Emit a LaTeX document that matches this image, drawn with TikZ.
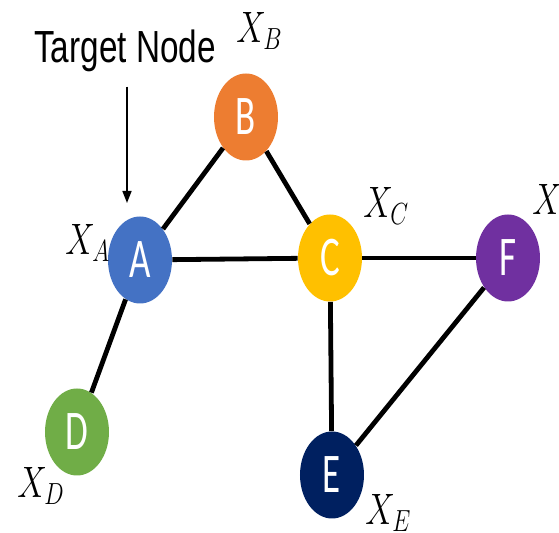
\documentclass[tikz,border=0pt]{standalone}
\usepackage{fontspec}
\newfontfamily\nodefont[FakeStretch=0.66]{Carlito}
\newfontfamily\notefont[FakeStretch=0.74]{Liberation Sans}
\usetikzlibrary{shapes.geometric,arrows.meta}

\definecolor{nodeA}{HTML}{4472C4}
\definecolor{nodeB}{HTML}{ED7D31}
\definecolor{nodeC}{HTML}{FFC000}
\definecolor{nodeD}{HTML}{70AD47}
\definecolor{nodeE}{HTML}{002060}
\definecolor{nodeF}{HTML}{7030A0}

\newcommand{\xlab}[1]{\scalebox{0.8}[1.06]{$X_{#1}$}}

\begin{document}
\begin{tikzpicture}[
  x=0.5pt, y=-0.5pt,
  vertex/.style={ellipse, minimum width=32pt, minimum height=43.5pt, inner sep=0,
                 text=white, font=\nodefont\fontsize{28}{28}\selectfont},
  edge/.style={line width=2.4pt, draw=black},
  xname/.style={anchor=base west, inner sep=0, font=\fontsize{20.74}{22}\selectfont},
  pointer/.style={-{Triangle[length=6pt,width=4.5pt]}, line width=0.75pt, shorten <=7pt},
]
\clip (0,0) rectangle (559,533);

\node[vertex, fill=nodeA] (a) at (140,260) {A};
\node[vertex, fill=nodeB] (b) at (246,117) {B};
\node[vertex, fill=nodeC] (c) at (330,258) {C};
\node[vertex, fill=nodeD] (d) at (77,432)  {D};
\node[vertex, fill=nodeE] (e) at (332,475) {E};
\node[vertex, fill=nodeF] (f) at (508,258) {F};

\draw[edge] (a) -- (b);
\draw[edge] (b) -- (c);
\draw[edge] (a) -- (c);
\draw[edge] (c) -- (f);
\draw[edge] (c) -- (e);
\draw[edge] (f) -- (e);
\draw[edge] (a) -- (d);

% labels beside the nodes
\node[xname] (xa) at (65,255)  {\xlab{A}};
\node[xname] (xb) at (236,43)  {\xlab{B}};
\node[xname] (xc) at (363,218) {\xlab{C}};
\node[xname] (xd) at (17,498)  {\xlab{D}};
\node[xname] (xe) at (365,525) {\xlab{E}};
\node[xname] (xf) at (532,215) {\xlab{F}};

\node[anchor=base, inner sep=0, font=\notefont\fontsize{22.5}{22.5}\selectfont] (target) at (125,63) {Target Node};
\coordinate (tip) at (127,203);
\draw[pointer] (target.south -| tip) -- (tip);

\end{tikzpicture}
\end{document}
